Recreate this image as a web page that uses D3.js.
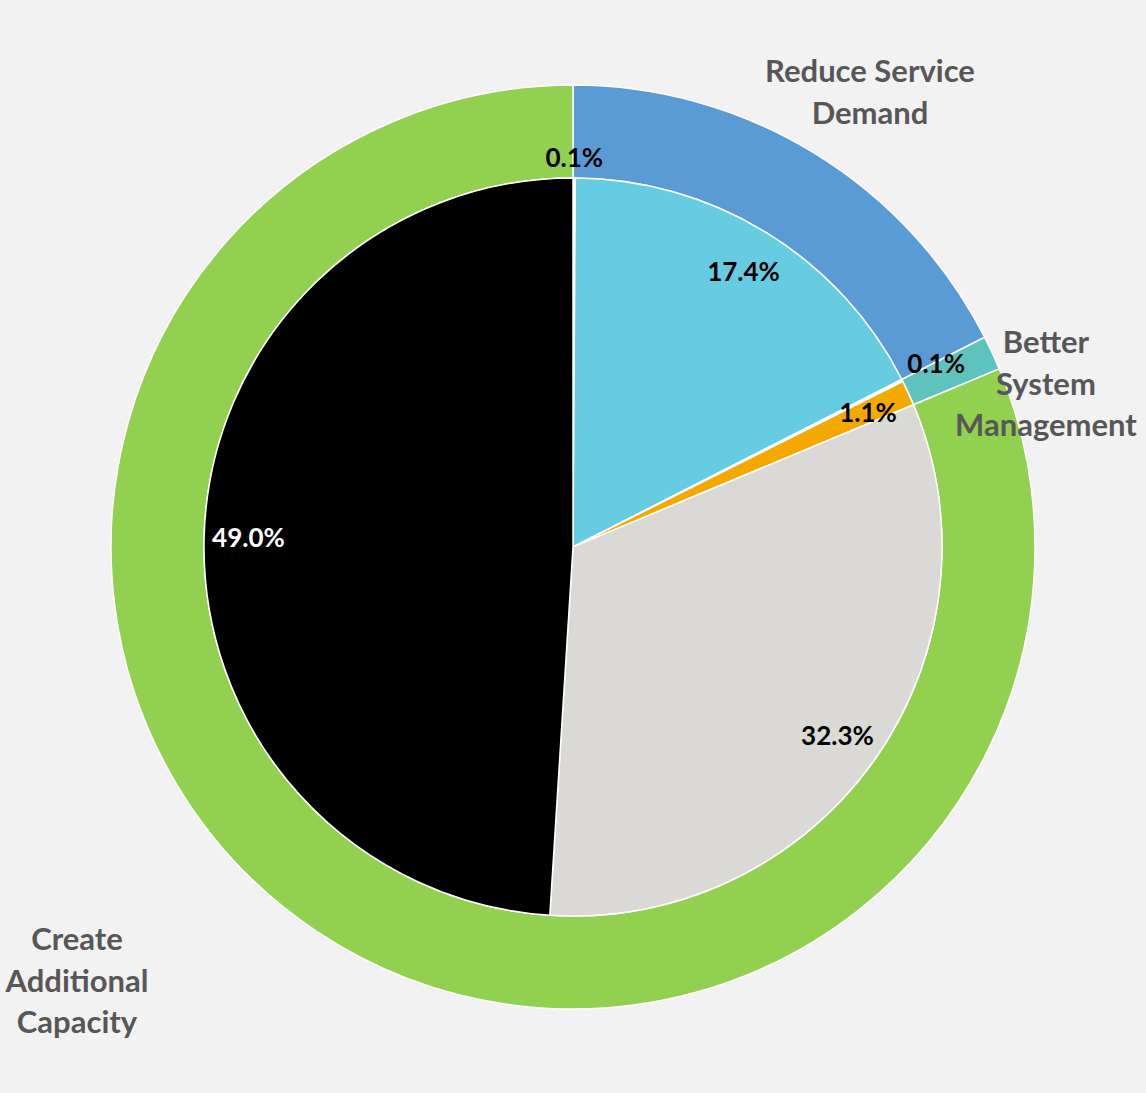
<!DOCTYPE html>
<html>
<head>
<meta charset="utf-8">
<script src="https://cdn.jsdelivr.net/npm/d3@7"></script>
<style>
  body { margin: 0; background: #f2f2f2; }
  svg { display: block; }
  .pct { font-family: Lato, 'Open Sans', sans-serif; font-weight: 700; font-size: 26px; }
  .group-label { font-family: Lato, 'Open Sans', sans-serif; font-weight: 700; font-size: 31px; fill: #575757; }
</style>
</head>
<body>
<svg width="1146" height="1093"></svg>
<script>
// inner pie slices (percent of total), clockwise from 12 o'clock
const innerValues = [0.1, 17.4, 0.1, 1.1, 32.3, 49.0];
const innerColors = ['#ffffff', '#66cce2', '#ffffff', '#f5a800', '#dad9d5', '#000000'];
const innerLabelColors = ['#000', '#000', '#000', '#000', '#000', '#fff'];
// which outer group each inner slice belongs to
const innerGroup = [0, 0, 1, 1, 2, 2];

// outer ring groups
const groups = ['Reduce Service Demand', 'Better System Management', 'Create Additional Capacity'];
const groupColors = ['#5b9bd5', '#5ec3be', '#92d050'];
const groupLines = [['Reduce Service', 'Demand'], ['Better', 'System', 'Management'], ['Create', 'Additional', 'Capacity']];

const svg = d3.select('svg');
const width = +svg.attr('width');
const height = +svg.attr('height');

svg.append('rect')
    .attr('width', width)
    .attr('height', height)
    .attr('fill', '#f2f2f2');

const cx = 573;
const cy = 547;
const outerR = 462;
const pieR = 369;

const g = svg.append('g')
    .attr('transform', `translate(${cx}, ${cy})`);

const groupValues = groups.map((_, i) =>
    d3.sum(innerValues.filter((v, j) => innerGroup[j] === i)));

const pie = d3.pie().sort(null).value(d => d);

// outer ring
const outerArc = d3.arc().innerRadius(pieR).outerRadius(outerR);
g.selectAll('path.outer')
    .data(pie(groupValues))
    .join('path')
    .attr('class', 'outer')
    .attr('d', outerArc)
    .attr('fill', (d, i) => groupColors[i])
    .attr('stroke', '#fff')
    .attr('stroke-width', 1.5);

// inner pie
const innerArcs = pie(innerValues);
const innerArc = d3.arc().innerRadius(0).outerRadius(pieR);
g.selectAll('path.inner')
    .data(innerArcs)
    .join('path')
    .attr('class', 'inner')
    .attr('d', innerArc)
    .attr('fill', (d, i) => innerColors[i])
    .attr('stroke', '#fff')
    .attr('stroke-width', 1.5);

// percent labels: big slices inside, tiny slices just outside the pie edge
const labelR = pieR * 0.88;
innerArcs.forEach((d, i) => {
    const a = (d.startAngle + d.endAngle) / 2;
    const t = g.append('text')
        .attr('class', 'pct')
        .attr('text-anchor', 'middle')
        .attr('dominant-baseline', 'central')
        .attr('fill', innerLabelColors[i])
        .text(d3.format('.1f')(innerValues[i]) + '%');
    let r = labelR;
    if (innerValues[i] < 1) {
        const bb = t.node().getBBox();
        const proj = Math.abs(Math.sin(a)) * bb.width / 2 + Math.abs(Math.cos(a)) * bb.height / 2;
        r = pieR + 5 + proj;
    }
    t.attr('x', Math.sin(a) * r).attr('y', -Math.cos(a) * r);
});

// group labels
const labelPos = [[870, 70], [1046, 341], [77, 938]];
const lineH = 41.5;
groupLines.forEach((lines, i) => {
    const t = svg.append('text')
        .attr('class', 'group-label')
        .attr('text-anchor', 'middle')
        .attr('dominant-baseline', 'central');
    lines.forEach((line, k) => {
        t.append('tspan')
            .attr('x', labelPos[i][0])
            .attr('y', labelPos[i][1] + k * lineH)
            .text(line);
    });
});
</script>
</body>
</html>
